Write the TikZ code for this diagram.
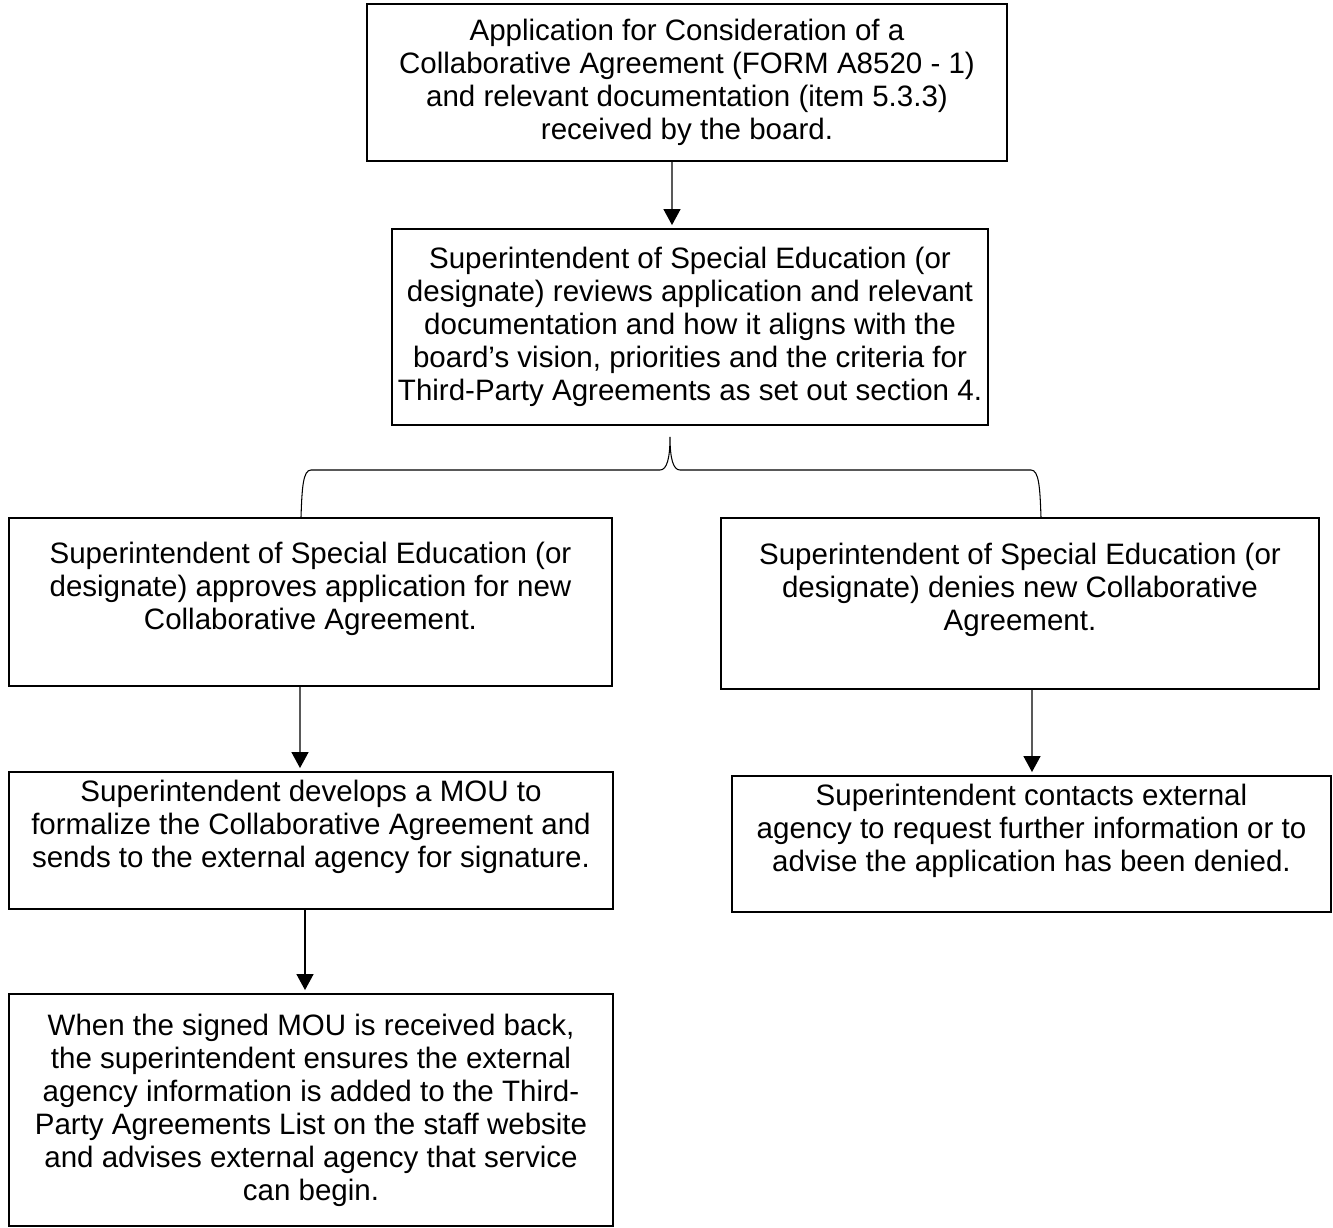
\documentclass[tikz,border=0pt]{standalone}
\usepackage{fontspec}
\setmainfont{Liberation Sans}
\usetikzlibrary{arrows.meta}
\begin{document}
\begin{tikzpicture}[x=0.02cm,y=-0.02cm]
		\tikzset{box/.style = {draw,line width=1.1pt,align=center,inner sep=0pt,font=\fontsize{16.8}{18.8}\selectfont}}
		\tikzset{flow/.style = {-{Triangle[width=0.34cm,length=0.32cm]},line width=0.8pt,shorten >=0.06cm}}
		\tikzset{brace/.style = {line width=0.6pt}}
		\useasboundingbox (0,0) rectangle (1333,1228);
		\node[box,minimum width=12.8cm,minimum height=3.14cm] (appl) at (687,82.5) {Application for Consideration of a\\Collaborative Agreement (FORM A8520 - 1)\\and relevant documentation (item 5.3.3)\\received by the board.};
		\node[box,minimum width=11.92cm,minimum height=3.92cm] (review) at (690,327) {Superintendent of Special Education (or\\designate) reviews application and relevant\\documentation and how it aligns with the\\board’s vision, priorities and the criteria for\\Third-Party Agreements as set out section 4.};
		\node[box,minimum width=12.06cm,minimum height=3.36cm] (approve) at (310.5,602) {Superintendent of Special Education (or\\designate) approves application for new\\Collaborative Agreement.\\~};
		\node[box,minimum width=11.96cm,minimum height=3.42cm] (deny) at (1020,603.5) {Superintendent of Special Education (or\\designate) denies new Collaborative\\Agreement.\\~};
		\node[box,minimum width=12.08cm,minimum height=2.74cm] (mou) at (311,840.5) {Superintendent develops a MOU to\\formalize the Collaborative Agreement and\\sends to the external agency for signature.\\~};
		\node[box,minimum width=11.98cm,minimum height=2.72cm] (contact) at (1031.5,844) {Superintendent contacts external\\agency to request further information or to\\advise the application has been denied.\\~};
		\node[box,minimum width=12.08cm,minimum height=4.64cm] (signed) at (311,1110) {When the signed MOU is received back,\\the superintendent ensures the external\\agency information is added to the Third-\\Party Agreements List on the staff website\\and advises external agency that service\\can begin.};
		% arrows
		\draw[flow] ([xshift=-0.30cm]appl.south) -- ([xshift=-0.36cm]review.north);
		\draw[flow] ([xshift=-0.21cm]approve.south) -- ([xshift=-0.22cm]mou.north);
		\draw[flow] ([xshift=0.24cm]deny.south) -- ([xshift=0.01cm]contact.north);
		\draw[flow] ([xshift=-0.12cm]mou.south) -- ([xshift=-0.12cm]signed.north);
		% brace
		\coordinate (tip) at ([xshift=-0.40cm,yshift=-0.22cm]review.south);
		\coordinate (bl) at ([xshift=-0.19cm]approve.north);
		\coordinate (br) at ([xshift=0.42cm]deny.north);
		\draw[brace] (bl) .. controls (302,488) and (303,470) .. (311,470) -- (660,470) .. controls (667,470) and (670,458) .. (tip) .. controls (670,458) and (673,470) .. (680,470) -- (1031,470) .. controls (1039,470) and (1040,488) .. (br);
	\end{tikzpicture}
\end{document}
